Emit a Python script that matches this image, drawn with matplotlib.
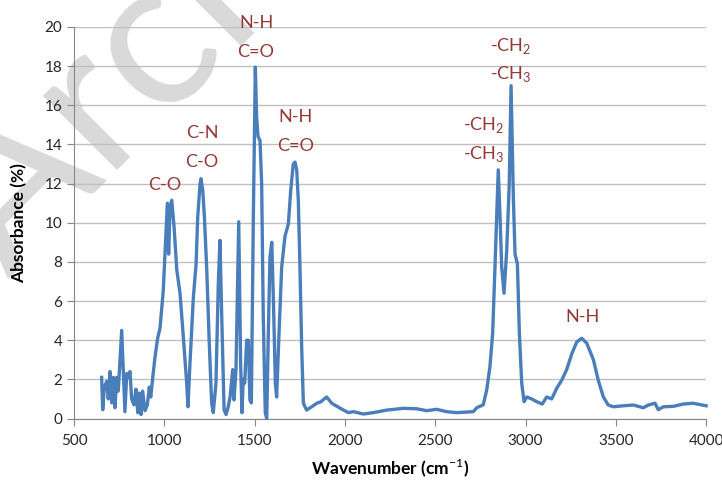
import matplotlib
matplotlib.use("Agg")
import matplotlib.pyplot as plt

# wavenumber (cm-1) and absorbance (%)
wavenumber = [653, 659, 668, 681, 690, 699, 709, 718, 727, 736, 745, 764, 782, 792,
              801, 810, 819, 832, 843, 853, 862, 871, 880, 893, 906, 917, 925, 936,
              948, 963, 976, 994, 1009, 1017, 1024, 1032, 1041, 1054, 1069, 1087,
              1105, 1124, 1131, 1142, 1161, 1176, 1185, 1198, 1203, 1213, 1222,
              1235, 1249, 1262, 1271, 1286, 1299, 1308, 1318, 1331, 1342, 1354,
              1364, 1379, 1386, 1397, 1412, 1423, 1430, 1437, 1445, 1456, 1465,
              1474, 1482, 1493, 1504, 1511, 1519, 1530, 1539, 1548, 1559, 1567,
              1576, 1585, 1595, 1604, 1615, 1622, 1633, 1650, 1668, 1687, 1700,
              1714, 1724, 1733, 1742, 1751, 1761, 1770, 1788, 1816, 1844, 1866,
              1899, 1927, 1973, 2019, 2047, 2102, 2157, 2231, 2323, 2397, 2453,
              2508, 2563, 2619, 2674, 2711, 2730, 2766, 2785, 2803, 2818, 2831,
              2840, 2849, 2859, 2868, 2881, 2896, 2910, 2920, 2933, 2942, 2955,
              2966, 2979, 2992, 3007, 3034, 3062, 3093, 3117, 3145, 3173, 3200,
              3228, 3256, 3283, 3311, 3339, 3376, 3403, 3431, 3458, 3486, 3541,
              3597, 3652, 3680, 3717, 3735, 3763, 3818, 3874, 3929, 4000]
absorbance = [2.1, 0.45, 1.6, 1.9, 1.0, 2.4, 0.8, 2.1, 0.55, 2.1, 1.4, 4.5, 0.35, 2.3,
              2.1, 2.4, 1.0, 0.7, 1.5, 0.3, 1.3, 0.2, 1.4, 0.4, 0.7, 1.6, 1.1, 2.1,
              3.1, 4.1, 4.6, 6.5, 9.5, 11.0, 8.4, 10.8, 11.15, 9.8, 7.6, 6.4,
              4.2, 1.8, 0.6, 2.8, 6.2, 7.9, 10.3, 12.0, 12.25, 11.65, 10.3,
              7.6, 3.85, 0.8, 0.3, 1.8, 6.9, 9.1, 5.2, 0.45, 0.2, 0.6,
              1.1, 2.5, 0.95, 2.5, 10.05, 2.65, 0.3, 2.0, 1.8, 4.0, 4.0,
              0.95, 0.8, 10.3, 17.95, 15.4, 14.4, 14.2, 12.0, 5.2, 0.3, 0.0,
              4.35, 8.25, 9.0, 6.05, 1.8, 1.1, 3.85, 7.75, 9.3, 9.95, 11.65,
              13.0, 13.1, 12.7, 11.15, 7.75, 3.5, 0.78, 0.43, 0.6, 0.78, 0.85,
              1.1, 0.78, 0.53, 0.3, 0.35, 0.23, 0.3, 0.43, 0.52, 0.5, 0.4,
              0.47, 0.35, 0.3, 0.33, 0.35, 0.55, 0.7, 1.45, 2.65, 4.35, 7.75,
              10.3, 12.7, 10.3, 7.75, 6.4, 8.6, 12.0, 17.0, 11.15, 8.4, 7.9,
              4.35, 1.8, 0.86, 1.1, 1.0, 0.86, 0.74, 1.1, 1.0, 1.55, 1.95,
              2.5, 3.3, 3.9, 4.1, 3.85, 3.0, 1.95, 1.1, 0.69, 0.6, 0.65,
              0.69, 0.55, 0.69, 0.78, 0.45, 0.6, 0.62, 0.74, 0.78, 0.65]

# peak labels: (text, x, y)
peak_labels = [("C-O", 1004, 11.95),
               ("C-N", 1209, 14.6), ("C-O", 1209, 13.1),
               ("N-H", 1508, 20.2), ("C=O", 1508, 18.7),
               ("N-H", 1729, 15.4), ("C=O", 1729, 13.9),
               ("-CH$_2$", 2770, 15.0), ("-CH$_3$", 2770, 13.5),
               ("-CH$_2$", 2920, 19.05), ("-CH$_3$", 2920, 17.6),
               ("N-H", 3318, 5.2)]

x_ticks = [500, 1000, 1500, 2000, 2500, 3000, 3500, 4000]
y_ticks = [0, 2, 4, 6, 8, 10, 12, 14, 16, 18, 20]

plt.rcParams['font.family'] = ['Lato', 'DejaVu Sans']
plt.rcParams['mathtext.fontset'] = 'custom'
plt.rcParams['mathtext.rm'] = 'Lato'

fig = plt.figure(figsize=(7.22, 4.82), dpi=100)

# faint watermark in the corner, behind the chart
fig.text(0.01, 0.42, 'Archive', fontsize=150, color='#d9d9d9', rotation=45,
         rotation_mode='anchor', ha='left', va='baseline', zorder=-5)

ax = fig.add_axes([0.1025, 0.1317, 0.8755, 0.8123])
ax.set_facecolor('none')

ax.plot(wavenumber, absorbance, color='#4a7ebb', lw=2.4, solid_joinstyle='round',
        clip_on=False, zorder=3)

ax.set_xlim(500, 4000)
ax.set_ylim(0, 20)
ax.set_xticks(x_ticks)
ax.set_yticks(y_ticks)
ax.yaxis.grid(True, color='#c0c0c0', lw=1)
ax.set_axisbelow(True)
for s in ['top', 'right']:
    ax.spines[s].set_visible(False)
for s in ['left', 'bottom']:
    ax.spines[s].set_color('#868686')
ax.tick_params(axis='both', colors='#868686', labelcolor='#262626', labelsize=11,
               direction='out', length=5)
ax.tick_params(axis='x', pad=6)

ax.set_xlabel('Wavenumber (cm$^{-1}$)', fontsize=12.5, fontweight='bold', labelpad=6)
ax.set_ylabel('Absorbance (%)', fontsize=12.5, fontweight='bold', labelpad=12)

for txt, x, y in peak_labels:
    ax.text(x, y, txt, ha='center', va='center', color='#953735', fontsize=13,
            clip_on=False, zorder=4)

fig.savefig('out.png', dpi=100)
